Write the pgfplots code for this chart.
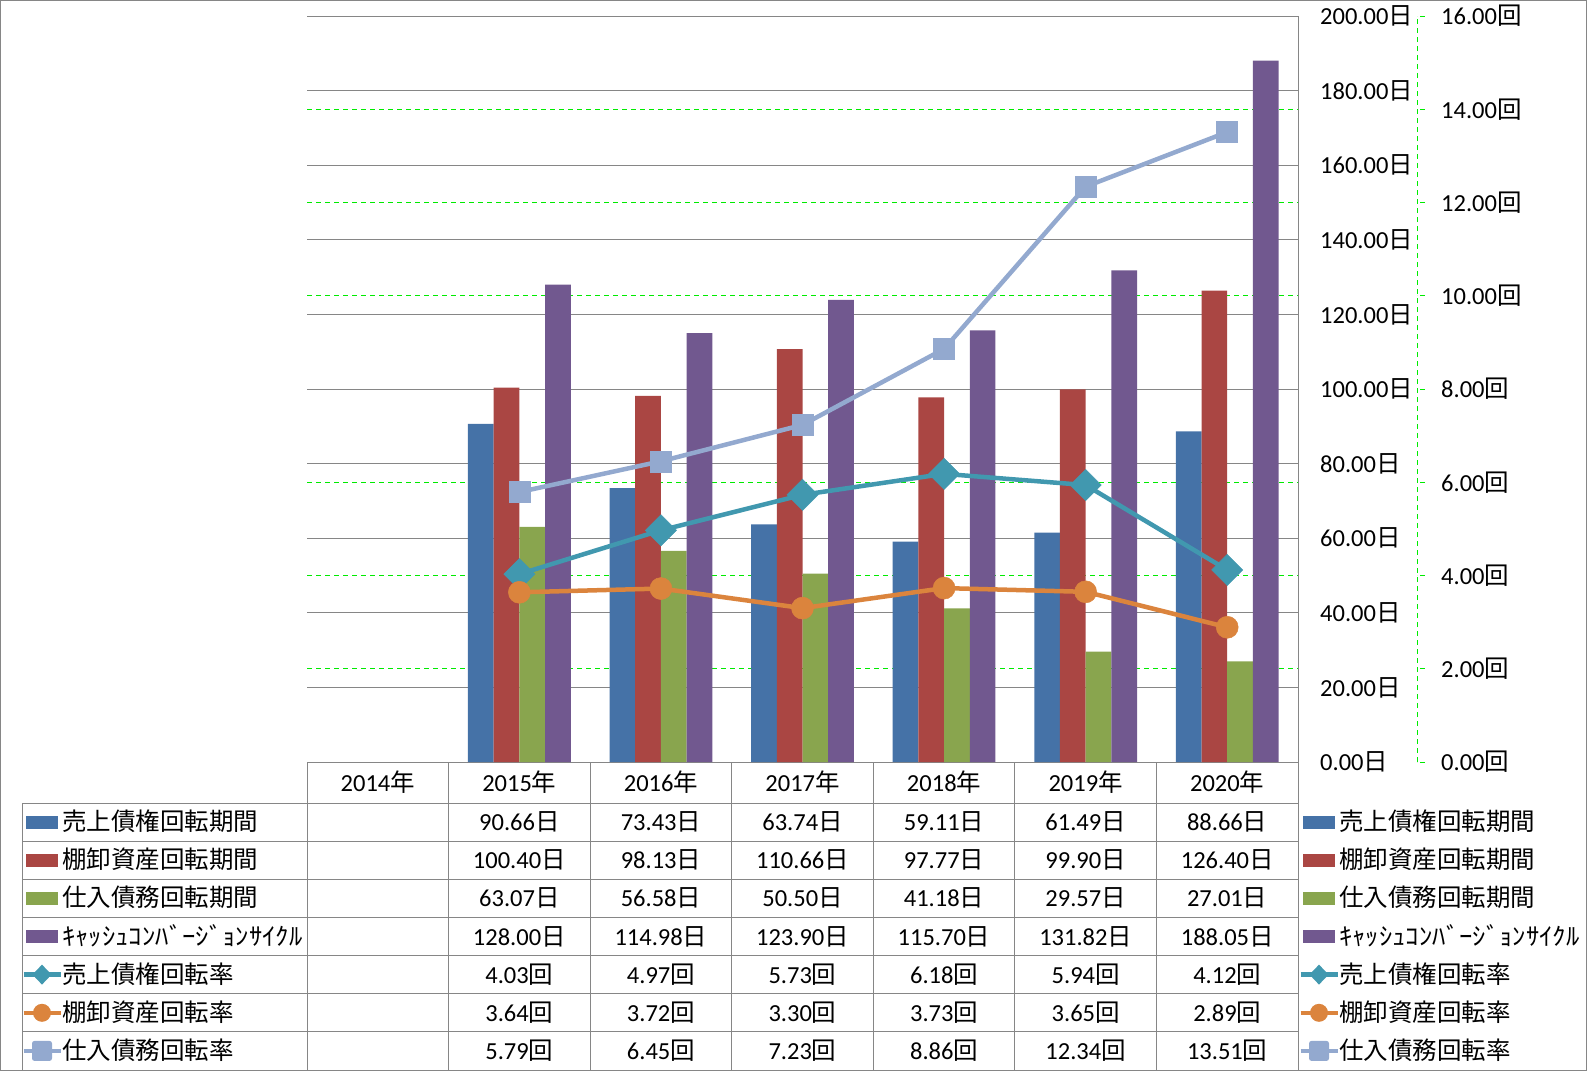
\documentclass[border=0pt]{standalone}
\usepackage{fontspec}
\setmainfont{Carlito}
\newfontfamily\jp{Noto Sans CJK JP}
\usepackage{pgfplots}
\pgfplotsset{compat=1.18}
\definecolor{gg}{RGB}{134,134,134}
\definecolor{cA}{RGB}{69,114,167}
\definecolor{cB}{RGB}{170,70,67}
\definecolor{cC}{RGB}{137,165,78}
\definecolor{cD}{RGB}{113,88,143}
\definecolor{lA}{RGB}{65,152,175}
\definecolor{lB}{RGB}{219,132,61}
\definecolor{lC}{RGB}{147,169,207}
\definecolor{grn}{RGB}{0,235,0}
\newcommand\fsz{\fontsize{24.5pt}{29pt}\selectfont}
\newcommand\nichi{{\jp 日}}
\newcommand\kai{{\jp 回}}
\newcommand\nen{{\jp 年}}
\newcommand\kata{\scalebox{1.09}[1]{\jp ｷｬｯｼｭｺﾝﾊﾞｰｼﾞｮﾝｻｲｸﾙ}}
% legend keys
\newcommand\keyrect[3]{\fill[#1] (#2,{-(#3-6.5)}) rectangle ({#2+32},{-(#3+6.5)});}
\newcommand\keyline[3]{\draw[#1,line width=4.5pt] ({#2},{-#3}) -- ({#2+37},{-#3});}
\newcommand\keydia[3]{\keyline{#1}{#2}{#3}\fill[#1] ({#2+18.5},{-#3+10}) -- ++(9.5,-10) -- ++(-9.5,-10) -- ++(-9.5,10) -- cycle;}
\newcommand\keycirc[3]{\keyline{#1}{#2}{#3}\fill[#1] ({#2+18.5},{-#3}) circle (9pt);}
\newcommand\keysq[3]{\keyline{#1}{#2}{#3}\fill[#1,rounded corners=2.5pt] ({#2+8.5},{-#3-10}) rectangle ({#2+28.5},{-#3+10});}
\newcommand\rowvals[3]{\foreach \v [count=\j] in {#2} \node[anchor=base,inner sep=0pt,font=\fsz] at ({307+141.571*(\j+0.5)},{-(#1+8.5)}) {\v#3};}
\newcommand\legtext[3]{\node[anchor=base west,inner sep=0pt,font=\fsz] at (#1,{-(#2+8.5)}) {#3};}

\begin{document}
\begin{tikzpicture}[x=1pt,y=1pt]
\path[use as bounding box] (0,0) rectangle (1587,-1071);
\begin{axis}[
  at={(307pt,-762pt)}, anchor=south west, scale only axis,
  width=991pt, height=746pt,
  xmin=-0.5, xmax=6.5, ymin=0, ymax=200,
  axis x line*=bottom, axis y line*=right,
  axis line style={draw=gg, line width=1pt, -},
  xtick=\empty,
  ytick={0,20,...,200},
  yticklabels={0.00\nichi,20.00\nichi,40.00\nichi,60.00\nichi,80.00\nichi,100.00\nichi,120.00\nichi,140.00\nichi,160.00\nichi,180.00\nichi,200.00\nichi},
  major tick length=0pt,
  ymajorgrids, major grid style={draw=gg, line width=1pt},
  extra y ticks={25,50,75,125,150,175},
  extra y tick labels={},
  extra y tick style={grid=major, major grid style={draw=grn, line width=1pt, dash pattern=on 5pt off 4pt}, major tick length=0pt},
  yticklabel style={anchor=west, inner sep=0pt, xshift=22pt, font=\fsz},
  ybar=0pt, bar width=25.7pt,
]
\addplot[fill=cA, draw=none] coordinates {(1,90.66) (2,73.43) (3,63.74) (4,59.11) (5,61.49) (6,88.66)};
\addplot[fill=cB, draw=none] coordinates {(1,100.40) (2,98.13) (3,110.66) (4,97.77) (5,99.90) (6,126.40)};
\addplot[fill=cC, draw=none] coordinates {(1,63.07) (2,56.58) (3,50.50) (4,41.18) (5,29.57) (6,27.01)};
\addplot[fill=cD, draw=none] coordinates {(1,128.00) (2,114.98) (3,123.90) (4,115.70) (5,131.82) (6,188.05)};
\end{axis}
\begin{axis}[
  at={(307pt,-762pt)}, anchor=south west, scale only axis,
  width=1110pt, height=746pt,
  xmin=-0.5, xmax=7.3406, ymin=0, ymax=16,
  axis x line=none, axis y line*=right,
  y axis line style={draw=grn, line width=1pt, dash pattern=on 5pt off 4pt, -},
  ytick={0,2,...,16},
  yticklabels={0.00\kai,2.00\kai,4.00\kai,6.00\kai,8.00\kai,10.00\kai,12.00\kai,14.00\kai,16.00\kai},
  tick align=outside, major tick length=8pt,
  ytick style={draw=grn, line width=1pt, dash pattern=on 5pt off 3pt},
  yticklabel style={anchor=west, inner sep=0pt, xshift=16pt, font=\fsz},
]
\addplot[lA, line width=4.5pt, mark=square*, mark size=11pt, mark options={rotate=45, line width=0.5pt, fill=lA, solid}] coordinates {(1,4.03) (2,4.97) (3,5.73) (4,6.18) (5,5.94) (6,4.12)};
\addplot[lB, line width=4.5pt, mark=*, mark size=11pt, mark options={line width=0.5pt, fill=lB, solid}] coordinates {(1,3.64) (2,3.72) (3,3.30) (4,3.73) (5,3.65) (6,2.89)};
\addplot[lC, line width=4.5pt, mark=square*, mark size=10.5pt, mark options={line width=0.5pt, fill=lC, solid}] coordinates {(1,5.79) (2,6.45) (3,7.23) (4,8.86) (5,12.34) (6,13.51)};
\end{axis}
% table grid
\begin{scope}[gg, line width=1pt]
\foreach \yy in {803,841.1,879.3,917.4,955.6,993.7,1031.8,1070} \draw (22,-\yy) -- (1298,-\yy);
\draw (22,-803) -- (22,-1070);
\foreach \k in {0,...,7} \draw ({307+141.571*\k},-762) -- ({307+141.571*\k},-1070);
\draw (0.5,-0.5) rectangle (1586.5,-1070.5);
\end{scope}
% header
\foreach \yr [count=\j from 0] in {2014,2015,2016,2017,2018,2019,2020}
  \node[anchor=base,inner sep=0pt,font=\fsz] at ({307+141.571*(\j+0.5)},-791) {\yr\nen};
% values
\rowvals{822.1}{90.66,73.43,63.74,59.11,61.49,88.66}{\nichi}
\rowvals{860.2}{100.40,98.13,110.66,97.77,99.90,126.40}{\nichi}
\rowvals{898.4}{63.07,56.58,50.50,41.18,29.57,27.01}{\nichi}
\rowvals{936.5}{128.00,114.98,123.90,115.70,131.82,188.05}{\nichi}
\rowvals{974.6}{4.03,4.97,5.73,6.18,5.94,4.12}{\kai}
\rowvals{1012.8}{3.64,3.72,3.30,3.73,3.65,2.89}{\kai}
\rowvals{1050.9}{5.79,6.45,7.23,8.86,12.34,13.51}{\kai}
% legends (left in table, right beside)
\foreach \xk/\xt in {26/62,1303/1339}{
  \keyrect{cA}{\xk}{822.1}\legtext{\xt}{822.1}{\jp 売上債権回転期間}
  \keyrect{cB}{\xk}{860.2}\legtext{\xt}{860.2}{\jp 棚卸資産回転期間}
  \keyrect{cC}{\xk}{898.4}\legtext{\xt}{898.4}{\jp 仕入債務回転期間}
  \keyrect{cD}{\xk}{936.5}\legtext{\xt}{936.5}{\kata}
  \keydia{lA}{\xk-2.5}{974.6}\legtext{\xt}{974.6}{\jp 売上債権回転率}
  \keycirc{lB}{\xk-2.5}{1012.8}\legtext{\xt}{1012.8}{\jp 棚卸資産回転率}
  \keysq{lC}{\xk-2.5}{1050.9}\legtext{\xt}{1050.9}{\jp 仕入債務回転率}
}
\end{tikzpicture}
\end{document}
